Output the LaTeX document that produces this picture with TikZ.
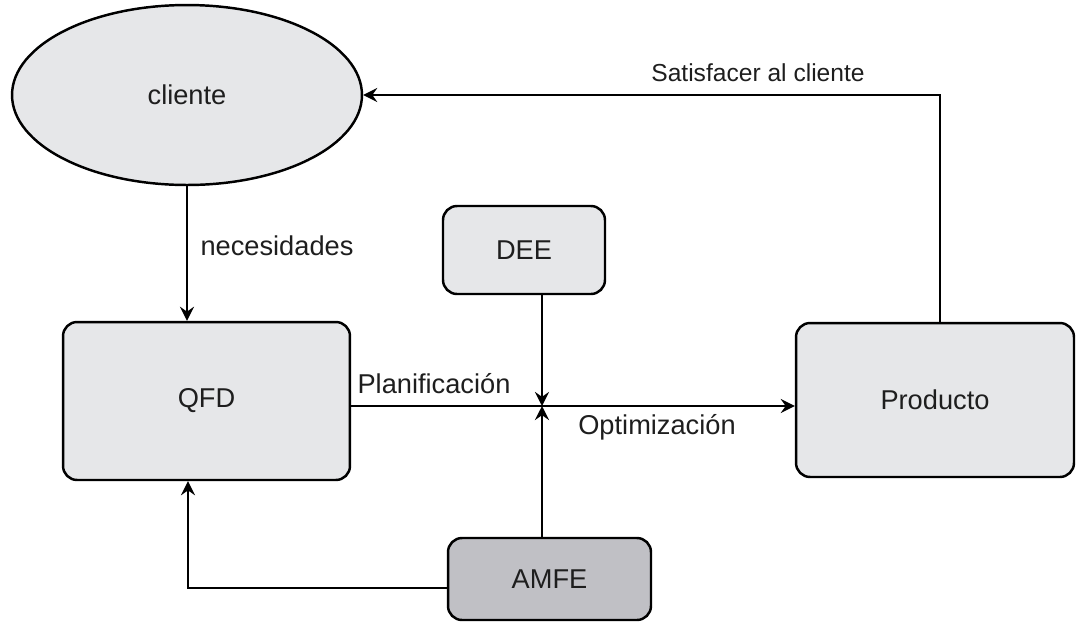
\documentclass[tikz,border=0pt]{standalone}
\usepackage{fontspec}
\setmainfont{Liberation Sans}
\usetikzlibrary{shapes.geometric,arrows.meta}
\definecolor{boxfill}{RGB}{230,231,233}
\definecolor{amfefill}{RGB}{192,192,197}
\definecolor{txt}{RGB}{30,30,30}
\tikzset{
  every node/.style={text=txt},
  box/.style={draw=black, line width=1.4pt, rounded corners=8pt, fill=boxfill, inner sep=0pt, font=\fontsize{15.5}{18}\selectfont},
  lbl/.style={font=\fontsize{15.5}{18}\selectfont, inner sep=0pt},
  conn/.style={line width=1.3pt, -{Stealth[length=8pt,width=8pt,inset=2.8pt]}},
}
\begin{document}
\begin{tikzpicture}[x=0.02cm,y=-0.02cm]
\useasboundingbox (0,0) rectangle (1076,623);
\node[draw=black, line width=1.4pt, ellipse, fill=boxfill, minimum width=7cm, minimum height=3.6cm, inner sep=0pt, font=\fontsize{15.5}{18}\selectfont] (cliente) at (187,95) {cliente};
\node[box, minimum width=5.74cm, minimum height=3.16cm] (QFD) at (206.5,401) {QFD};
\node[box, minimum width=3.24cm, minimum height=1.76cm] (DEE) at (524,250) {DEE};
\node[box, minimum width=5.56cm, minimum height=3.08cm] (Producto) at (935,400) {Producto};
\node[box, fill=amfefill, minimum width=4.06cm, minimum height=1.64cm] (AMFE) at (549.5,579) {AMFE};
\coordinate (J) at (542,406);
\coordinate (amfeL) at (188,588);
\coordinate (topR) at (940,93);
\draw[conn] (cliente.south) -- (cliente.south |- QFD.north);
\draw[conn] (QFD.east |- J) -- (Producto.west |- J);
\draw[conn] (DEE.south -| J) -- (J);
\draw[conn] (AMFE.north -| J) -- (J);
\draw[conn] (AMFE.west |- amfeL) -| (amfeL |- QFD.south);
\draw[conn] (Producto.north -| topR) |- (cliente.east);
\node[lbl] (nec) at (277,246) {necesidades};
\node[lbl] (plan) at (434,384) {Planificación};
\node[lbl] (opt) at (657,427) {Optimización};
\node[lbl, font=\fontsize{14}{17}\selectfont] (sat) at (758,73) {Satisfacer al cliente};
\end{tikzpicture}
\end{document}
